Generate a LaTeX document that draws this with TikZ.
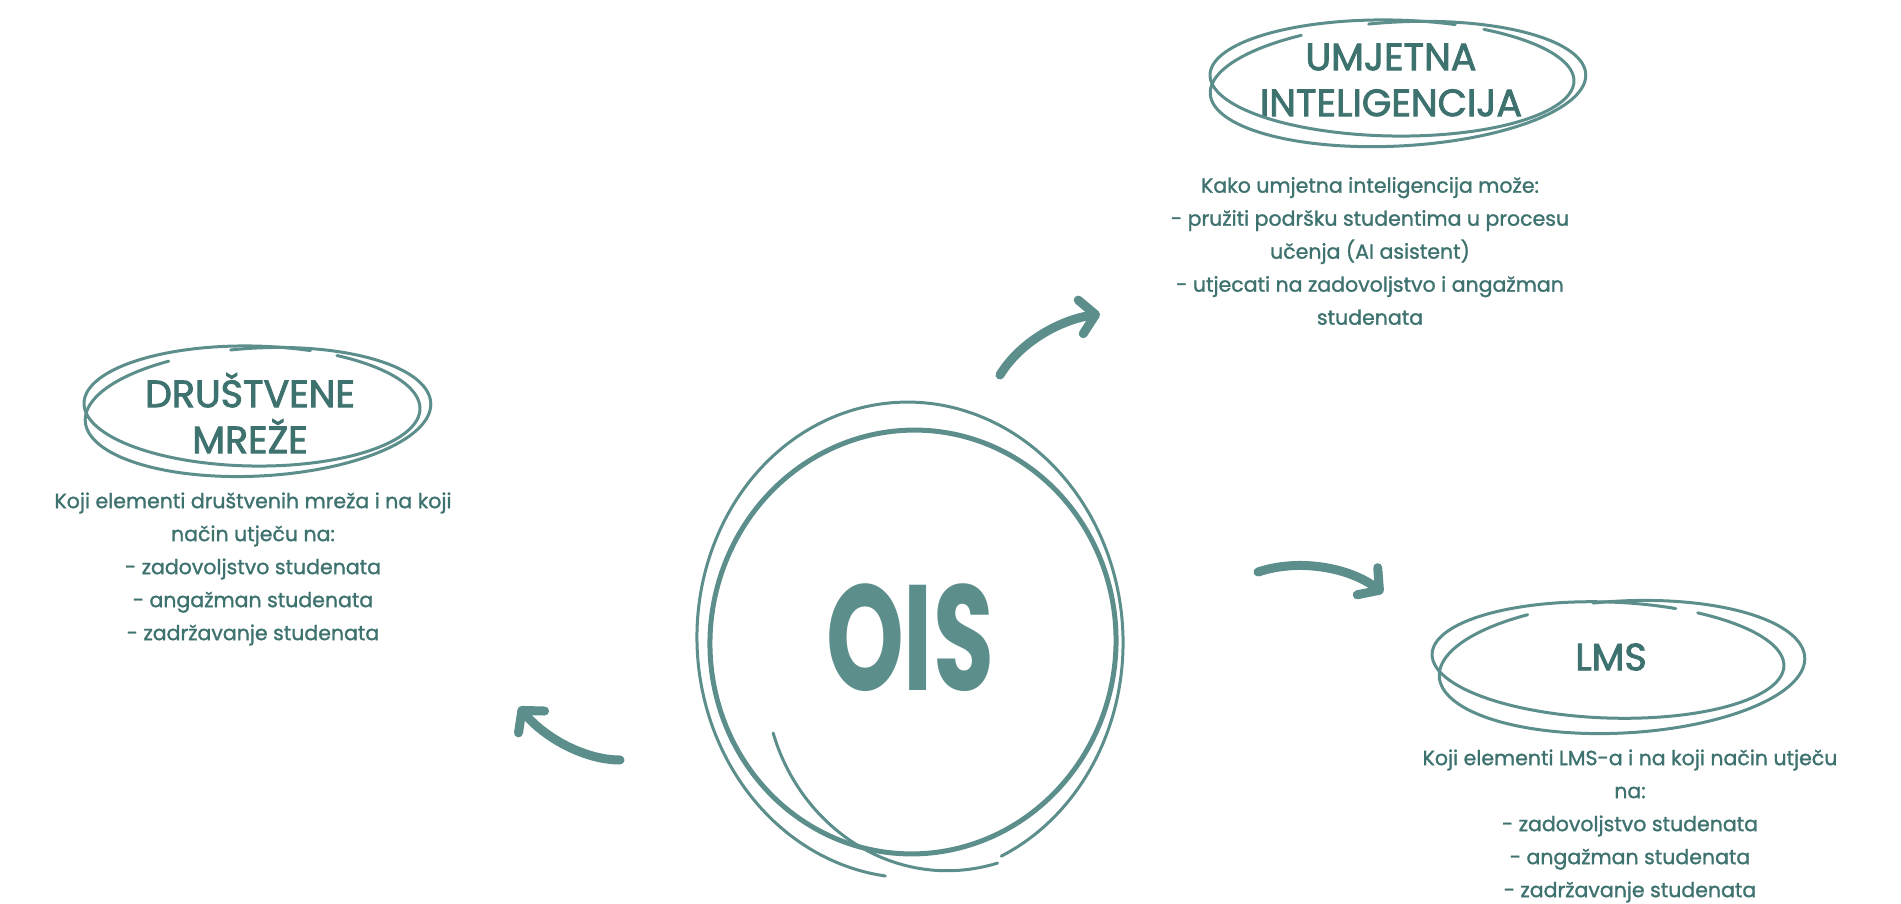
\documentclass[tikz,border=0pt]{standalone}
\usepackage{fontspec}
\setmainfont{Poppins}
\newfontfamily\bodyfont{Poppins}[FakeBold=1.3]
\newfontfamily\titlefont{Poppins}[FakeBold=2.2]
\usetikzlibrary{arrows.meta}
\definecolor{tealline}{RGB}{92,142,140}
\definecolor{tealtext}{RGB}{62,114,111}
% #1 style, #2 cx, #3 cy, #4 rx, #5 ry, #6 rotation, #7 start, #8 end
\newcommand{\scribloop}[8]{%
  \draw[#1] plot[smooth, samples=140, domain=#7:#8, variable=\t]
   ({#2 + (#4)*cos(\t)*cos(#6) - (#5)*sin(\t)*sin(#6)},
    {#3 + (#4)*cos(\t)*sin(#6) + (#5)*sin(\t)*cos(#6)});}
\begin{document}
\begin{tikzpicture}[x=1pt,y=-1pt,
  thinloop/.style={draw=tealline, line width=3pt, line cap=round, line join=round},
  thickloop/.style={draw=tealline, line width=5pt, line cap=round, line join=round},
  titletext/.style={text=tealtext, align=center, inner sep=0pt,
     font=\titlefont\fontsize{38}{46}\selectfont},
  bodytext/.style={text=tealtext, align=center, inner sep=0pt,
     font=\bodyfont\fontsize{20.5}{33}\selectfont},
  bigarrow/.style={draw=tealline, line width=9pt, line cap=round,
     -{Straight Barb[length=15pt,width=34pt,round]}}]
\useasboundingbox (0,0) rectangle (1901,904);

% central circle
\node[text=tealline, font=\fontsize{150}{150}\selectfont\bfseries, xscale=0.66, inner sep=0pt] (ois) at (910,638) {OIS};
\scribloop{thinloop}{910}{640}{213}{238}{-3}{100}{428}
\scribloop{thickloop}{913}{642}{203}{212}{5}{0}{362}
\scribloop{thinloop}{910}{645}{158+(150-\t)*0.58}{176+(150-\t)*0.76}{0}{65}{150}

% titles
\node[titletext] (ai) at (1391,80) {UMJETNA\\INTELIGENCIJA};
\scribloop{thinloop}{1392}{78}{182}{58}{1}{-60}{290}
\scribloop{thinloop}{1398}{84}{188}{62}{-3}{262}{600}

\node[titletext] (dm) at (250,413) {DRUŠTVENE\\MREŽE};
\scribloop{thinloop}{252}{406}{168}{60}{1}{-60}{290}
\scribloop{thinloop}{258}{412}{173}{64}{-3}{262}{600}

\node[titletext] (lms) at (1611,657) {LMS};
\scribloop{thinloop}{1608}{660}{176}{58}{2}{-60}{292}
\scribloop{thinloop}{1622}{667}{183}{66}{-3}{262}{600}

% body texts
\node[bodytext] (aitext) at (1370,251) {Kako umjetna inteligencija može:\\- pružiti podršku studentima u procesu\\učenja (AI asistent)\\- utjecati na zadovoljstvo i angažman\\studenata};
\node[bodytext] (dmtext) at (253,569) {Koji elementi društvenih mreža i na koji\\način utječu na:\\- zadovoljstvo studenata\\- angažman studenata\\- zadržavanje studenata};
\node[bodytext] (lmstext) at (1630,826) {Koji elementi LMS-a i na koji način utječu\\na:\\- zadovoljstvo studenata\\- angažman studenata\\- zadržavanje studenata};

% arrows
\coordinate (aS) at (1000,375);
\coordinate (aE) at (1100,314);
\coordinate (bS) at (1258,572);
\coordinate (bE) at (1383,593);
\coordinate (cS) at (620,760);
\coordinate (cE) at (519,707);
\draw[bigarrow] (aS) .. controls (1020,342) and (1060,320) .. (aE);
\draw[bigarrow] (bS) .. controls (1300,558) and (1350,568) .. (bE);
\draw[bigarrow] (cS) .. controls (585,760) and (545,738) .. (cE);
\end{tikzpicture}
\end{document}
